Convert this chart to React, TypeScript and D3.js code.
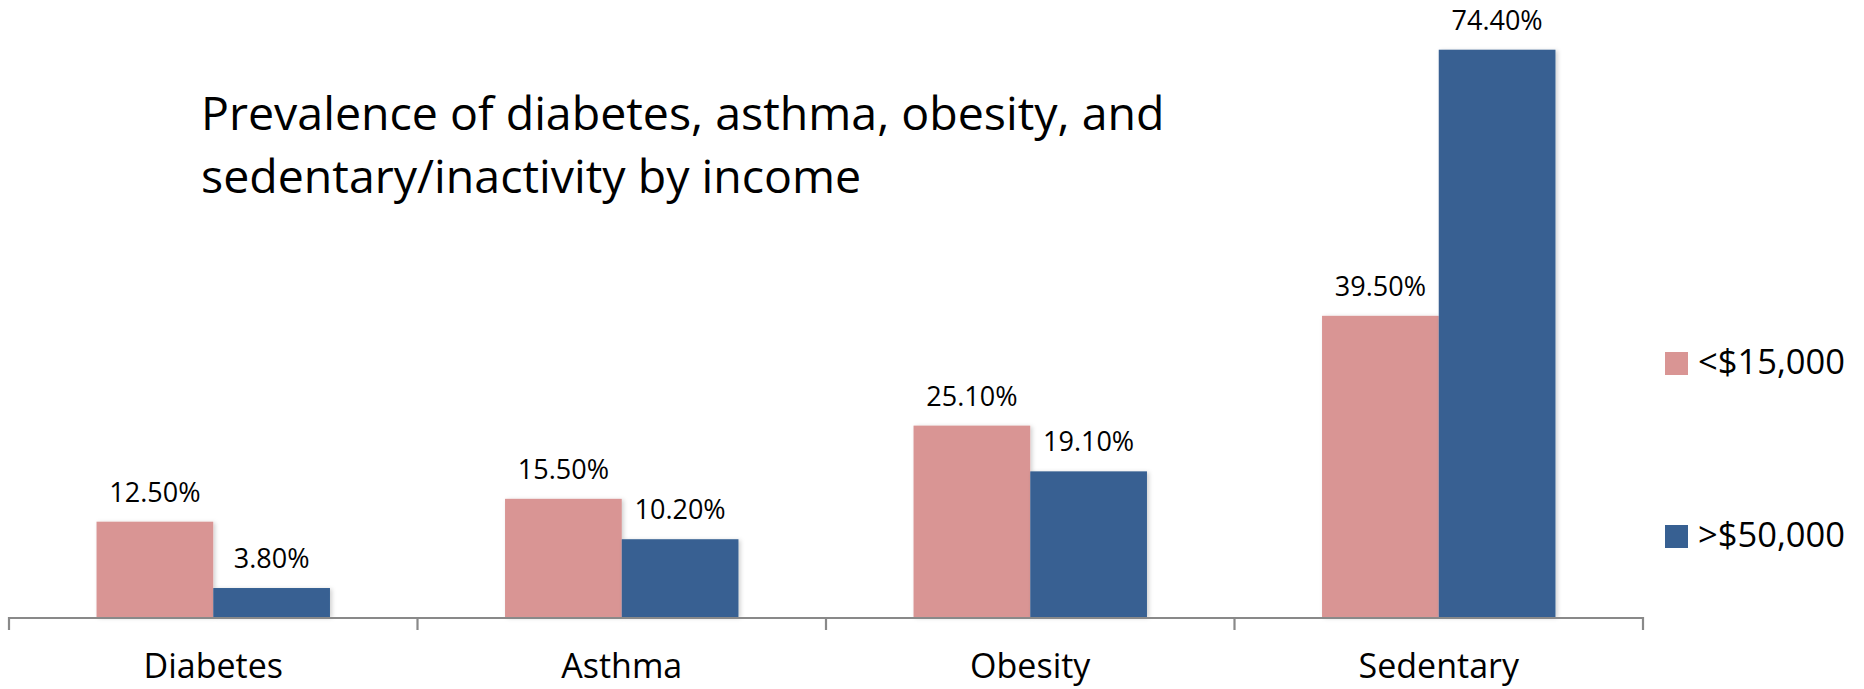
import React, { useEffect, useRef } from "react";
import * as d3 from "d3";

// chart data
const categories = ["Diabetes", "Asthma", "Obesity", "Sedentary"];
const seriesNames = ["<$15,000", ">$50,000"];
const lowIncome = [12.5, 15.5, 25.1, 39.5];
const highIncome = [3.8, 10.2, 19.1, 74.4];
const seriesColors = ["#D99594", "#376092"];
const titleLines = [
  "Prevalence of diabetes, asthma, obesity, and",
  "sedentary/inactivity by income",
];

const WIDTH = 1864;
const HEIGHT = 689;
const FONT = "'Open Sans', 'Noto Sans', sans-serif";

export default function App() {
  const svgRef = useRef<SVGSVGElement | null>(null);

  useEffect(() => {
    if (!svgRef.current) return;
    const svg = d3.select(svgRef.current);
    svg.selectAll("*").remove();

    const plot = { left: 9, right: 1643, top: 7, bottom: 617 };

    // x0: categories, x1: series within a category
    const x0 = d3
      .scaleBand<string>()
      .domain(categories)
      .range([plot.left, plot.right])
      .paddingInner(0)
      .paddingOuter(0);

    const x1 = d3
      .scaleBand<string>()
      .domain(seriesNames)
      .range([0, x0.bandwidth()])
      .paddingInner(0)
      .paddingOuter(0.75);

    const y = d3.scaleLinear().domain([0, 80]).range([plot.bottom, plot.top]);

    // soft shadow like office charts
    const defs = svg.append("defs");
    const filter = defs
      .append("filter")
      .attr("id", "barShadow")
      .attr("x", "-10%")
      .attr("y", "-10%")
      .attr("width", "130%")
      .attr("height", "130%");
    filter
      .append("feDropShadow")
      .attr("dx", 2)
      .attr("dy", 1)
      .attr("stdDeviation", 2)
      .attr("flood-color", "#000")
      .attr("flood-opacity", 0.18);

    const rows = categories.map((c, i) => ({
      category: c,
      values: [lowIncome[i], highIncome[i]],
    }));

    const groups = svg
      .append("g")
      .selectAll("g")
      .data(rows)
      .enter()
      .append("g")
      .attr("transform", (d) => `translate(${x0(d.category)},0)`);

    groups
      .selectAll("rect")
      .data((d) => d.values.map((v, j) => ({ v, j })))
      .enter()
      .append("rect")
      .attr("x", (d) => x1(seriesNames[d.j]) ?? 0)
      .attr("y", (d) => y(d.v))
      .attr("width", x1.bandwidth())
      .attr("height", (d) => plot.bottom - y(d.v))
      .attr("fill", (d) => seriesColors[d.j])
      .attr("filter", "url(#barShadow)");

    // value labels
    groups
      .selectAll("text")
      .data((d) => d.values.map((v, j) => ({ v, j })))
      .enter()
      .append("text")
      .attr("x", (d) => (x1(seriesNames[d.j]) ?? 0) + x1.bandwidth() / 2)
      .attr("y", (d) => y(d.v) - 20)
      .attr("text-anchor", "middle")
      .attr("font-family", FONT)
      .attr("font-size", 27)
      .attr("fill", "#000")
      .text((d) => d.v.toFixed(2) + "%");

    // x axis line with category separators
    const axis = svg.append("g").attr("stroke", "#898989").attr("stroke-width", 2.2);
    axis
      .append("line")
      .attr("x1", plot.left)
      .attr("x2", plot.right)
      .attr("y1", plot.bottom + 1)
      .attr("y2", plot.bottom + 1);
    const tickXs = categories.map((c) => x0(c) ?? 0).concat([plot.right]);
    axis
      .selectAll("line.tick")
      .data(tickXs)
      .enter()
      .append("line")
      .attr("class", "tick")
      .attr("x1", (d) => d)
      .attr("x2", (d) => d)
      .attr("y1", plot.bottom)
      .attr("y2", plot.bottom + 13);

    // category labels
    svg
      .append("g")
      .selectAll("text")
      .data(categories)
      .enter()
      .append("text")
      .attr("x", (d) => (x0(d) ?? 0) + x0.bandwidth() / 2)
      .attr("y", 678)
      .attr("text-anchor", "middle")
      .attr("font-family", FONT)
      .attr("font-size", 34)
      .attr("fill", "#000")
      .text((d) => d);

    // title
    svg
      .append("g")
      .selectAll("text")
      .data(titleLines)
      .enter()
      .append("text")
      .attr("x", 201)
      .attr("y", (_, i) => 130 + i * 63)
      .attr("font-family", FONT)
      .attr("font-size", 46.5)
      .attr("fill", "#000")
      .text((d) => d);

    // legend
    const legend = svg
      .append("g")
      .selectAll("g")
      .data(seriesNames)
      .enter()
      .append("g")
      .attr("transform", (_, i) => `translate(1665,${352 + i * 173})`);
    legend
      .append("rect")
      .attr("width", 23)
      .attr("height", 23)
      .attr("fill", (_, i) => seriesColors[i]);
    legend
      .append("text")
      .attr("x", 33)
      .attr("y", 22)
      .attr("font-family", FONT)
      .attr("font-size", 34.5)
      .attr("fill", "#000")
      .text((d) => d);
  }, []);

  return (
    <svg
      ref={svgRef}
      width={WIDTH}
      height={HEIGHT}
      viewBox={`0 0 ${WIDTH} ${HEIGHT}`}
      style={{ position: "absolute", left: 0, top: 0, background: "#fff" }}
    />
  );
}
